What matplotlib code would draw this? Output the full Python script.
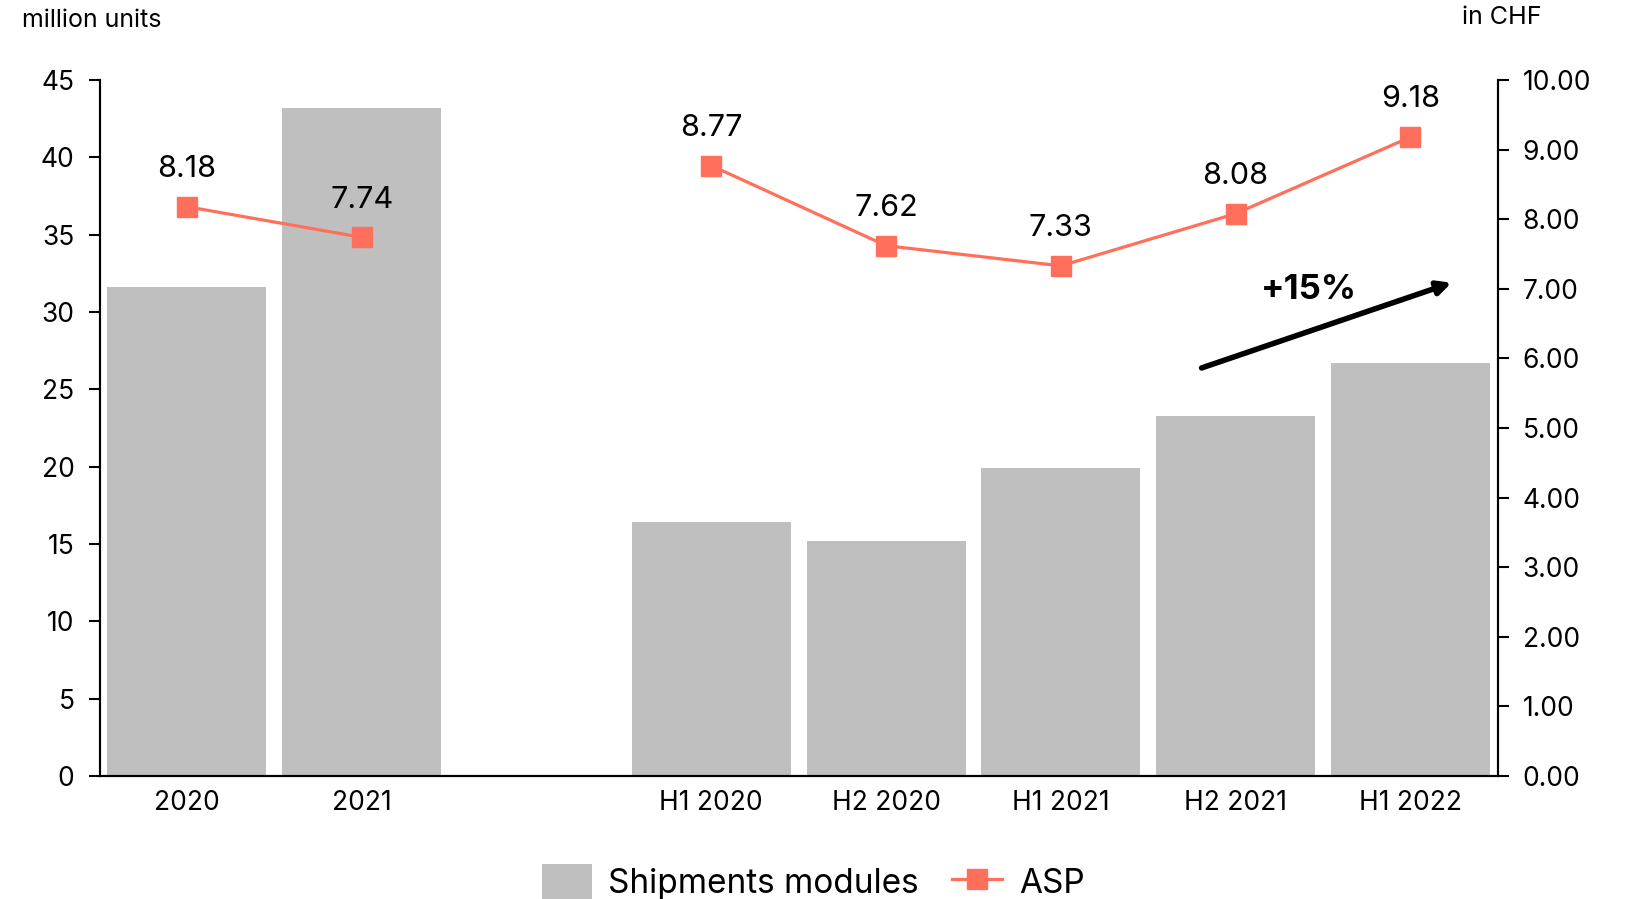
import matplotlib.pyplot as plt
import numpy as np

plt.rcParams['font.family'] = ['Inter', 'DejaVu Sans']

# data
categories = ['2020', '2021', 'H1 2020', 'H2 2020', 'H1 2021', 'H2 2021', 'H1 2022']
slots = [0, 1, 3, 4, 5, 6, 7]          # one empty slot between yearly and half-year groups
shipments = [31.6, 43.2, 16.4, 15.2, 19.9, 23.25, 26.7]
asp = [8.18, 7.74, 8.77, 7.62, 7.33, 8.08, 9.18]
asp_labels = ['8.18', '7.74', '8.77', '7.62', '7.33', '8.08', '9.18']

bar_color = '#BFBFBF'
line_color = '#FF6F5B'

fig = plt.figure(figsize=(16.26, 8.99), dpi=100)
ax = fig.add_axes([0.0612, 0.1368, 0.86, 0.7742])
ax2 = ax.twinx()

bars = ax.bar(slots, shipments, width=0.91, color=bar_color, label='Shipments modules', zorder=1)
ax.set_xlim(-0.5, 7.5)
ax.set_ylim(0, 45)
ax.set_yticks(np.arange(0, 46, 5))
ax.set_xticks(slots)
ax.set_xticklabels(categories)

# ASP line, broken between the yearly and half-year groups
ax2.plot(slots[:2], asp[:2], color=line_color, lw=2.3, marker='s', ms=14, zorder=3)
line, = ax2.plot(slots[2:], asp[2:], color=line_color, lw=2.3, marker='s', ms=14, zorder=3, label='ASP')
ax2.set_ylim(0, 10)
ax2.set_yticks(np.arange(0, 11, 1))
ax2.set_yticklabels(['%.2f' % v for v in np.arange(0, 11, 1)])

for x, v, s in zip(slots, asp, asp_labels):
    ax2.annotate(s, (x, v), xytext=(0, 17), textcoords='offset points', ha='center', va='bottom',
                 fontsize=22)

# growth arrow
ax2.annotate('', xy=(7.25, 7.1), xytext=(5.79, 5.85),
             arrowprops=dict(arrowstyle='-|>,head_length=0.8,head_width=0.4', lw=4, color='black'))
ax2.text(6.42, 6.98, '+15%', fontsize=25, fontweight='bold', ha='center', va='center')

for a in (ax, ax2):
    a.spines['top'].set_visible(False)
    for s in ('left', 'right', 'bottom'):
        a.spines[s].set_linewidth(1.5)
    a.tick_params(axis='y', labelsize=19, length=8, width=1.5, pad=10)
ax.tick_params(axis='x', labelsize=19, length=0, pad=10)

fig.text(0.0135, 0.977, 'million units', fontsize=18, ha='left', va='center')
fig.text(0.948, 0.981, 'in CHF', fontsize=18, ha='right', va='center')

fig.legend([bars, line], ['Shipments modules', 'ASP'], loc='lower center', bbox_to_anchor=(0.5, -0.035),
           ncol=2, frameon=False, fontsize=24, handlelength=1.5, handleheight=1.3, columnspacing=1.0,
           handletextpad=0.5)

fig.savefig('out.png', dpi=100)
